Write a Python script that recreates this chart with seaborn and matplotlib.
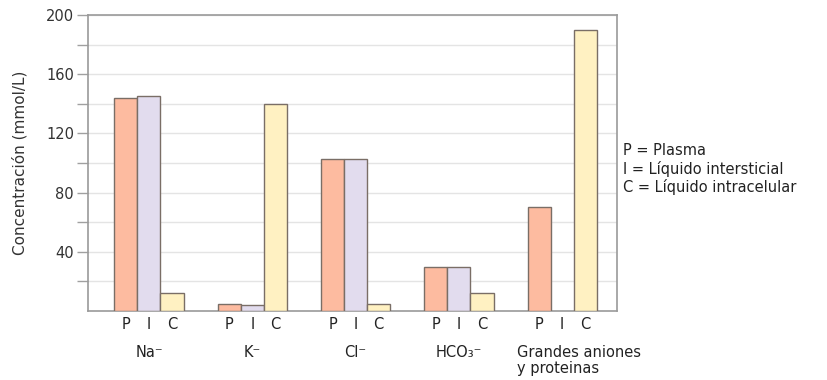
import matplotlib
matplotlib.use("Agg")
import matplotlib.pyplot as plt
import seaborn as sns
import pandas as pd
import numpy as np

# ---- data ----
groups = ["Na⁻", "K⁻", "Cl⁻", "HCO₃⁻", "Grandes aniones\ny proteinas"]
compartments = ["P", "I", "C"]
plasma = [144, 5, 103, 30, 70]
intersticial = [145, 4, 103, 30, 0]
intracelular = [12, 140, 5, 12, 190]
y_ticks = [40, 80, 120, 160, 200]
legend_lines = ["P = Plasma", "I = Líquido intersticial", "C = Líquido intracelular"]

colors = {"P": "#FDBBA0", "I": "#E2DCEE", "C": "#FFF1C2"}

rows = []
for g, p, i, c in zip(groups, plasma, intersticial, intracelular):
    rows += [(g, "P", p), (g, "I", i), (g, "C", c)]
df = pd.DataFrame(rows, columns=["ion", "comp", "value"])

sns.set_style("white")
plt.rcParams["font.family"] = ["DejaVu Sans"]

fig = plt.figure(figsize=(8.27, 3.80), dpi=100)
ax = fig.add_axes([88 / 827, 1 - 311 / 380, (617 - 88) / 827, (311 - 15) / 380])

sns.barplot(data=df, x="ion", y="value", hue="comp", hue_order=compartments,
            palette=colors, saturation=1, width=0.67, gap=0, edgecolor="#7a6e66",
            linewidth=1.0, legend=False, ax=ax, zorder=3)

for cont in ax.containers:
    for patch in cont.patches:
        if patch.get_height() == 0:
            patch.set_linewidth(0)

ax.set_ylim(0, 200)
ax.set_xlim(-0.59, 4.53)
ax.set_yticks(y_ticks)
ax.set_yticks([20, 60, 100, 140, 180], minor=True)
ax.grid(axis="y", which="both", color="#e4e4e4", linewidth=1.0, zorder=0)
ax.set_axisbelow(True)
ax.tick_params(axis="y", which="both", direction="out", length=8, width=1,
               color="#a0a0a0", left=True, labelsize=10.5, labelcolor="#333333", pad=2)
for s in ax.spines.values():
    s.set_color("#9a9a9a")
    s.set_linewidth(1.2)

# x tick labels P I C at each bar centre
centers, labels = [], []
for k, cont in enumerate(ax.containers):
    for patch in cont.patches:
        centers.append(patch.get_x() + patch.get_width() / 2)
        labels.append(compartments[k])
ax.set_xticks(centers)
ax.set_xticklabels(labels, fontsize=10.5, color="#222222")
ax.tick_params(axis="x", length=0, pad=4)
ax.set_xlabel("")
ax.set_ylabel("Concentración (mmol/L)", fontsize=11, color="#333333", labelpad=13)

# group labels
trans = ax.get_xaxis_transform()
for gi, g in enumerate(groups):
    if "\n" in g:
        xs = [p.get_x() for p in ax.containers[0].patches]
        ax.text(xs[gi] - 0.1, -0.115, g, transform=trans, ha="left", va="top",
                fontsize=10.5, color="#222222", linespacing=1.05)
    else:
        ax.text(gi, -0.115, g, transform=trans, ha="center", va="top",
                fontsize=10.5, color="#222222")

fig.text(623 / 827, 1 - 143 / 380, "\n".join(legend_lines), ha="left", va="top",
         fontsize=10.5, color="#222222", linespacing=1.2)

fig.savefig("out.png", dpi=100)
